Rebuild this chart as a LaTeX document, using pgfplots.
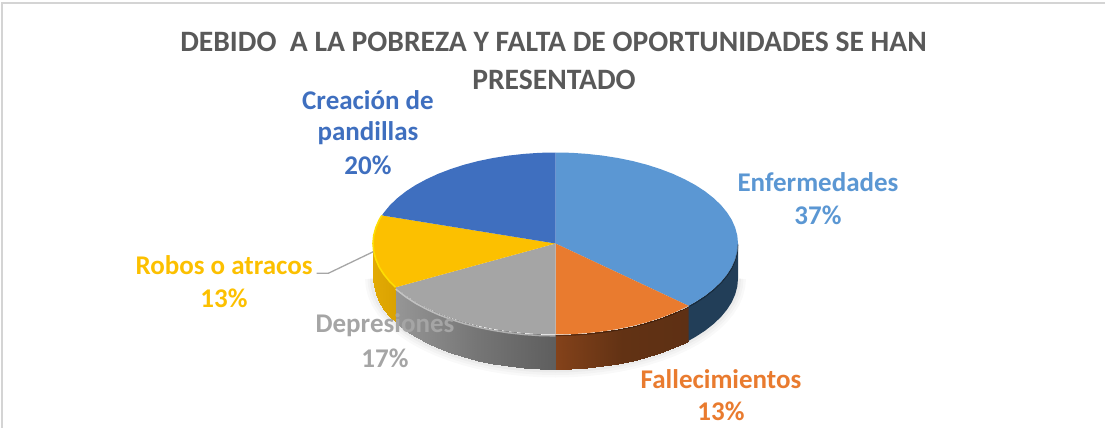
\documentclass[border=0pt]{standalone}
\usepackage{fontspec}
\setmainfont{Carlito}
\usepackage{pgfplots}
\usepackage{pgfplotstable}
\pgfplotsset{compat=1.18}

\definecolor{cEnf}{HTML}{5B97D3}
\definecolor{cFal}{HTML}{E97B2F}
\definecolor{cDep}{HTML}{A5A5A5}
\definecolor{cRob}{HTML}{FCC000}
\definecolor{cCre}{HTML}{3F6FBF}
\definecolor{cTitle}{HTML}{595959}
\definecolor{cEnfSide}{HTML}{223E58}

% shares of the pie: Enfermedades 37, Fallecimientos 13, Depresiones 17, Robos 13, Creacion 20
% all coordinates below are image pixels

\pgfplotstableread{
x y
555.5 243.5
555.5 152.5
571.4 152.8
587.2 153.9
602.7 155.6
617.9 158.0
632.6 161.0
646.8 164.7
660.2 169.0
672.8 173.8
684.5 179.2
695.3 185.0
705.0 191.3
713.5 198.0
720.9 205.0
727.0 212.4
731.8 219.9
735.2 227.7
737.3 235.6
738.0 243.5
737.3 251.4
735.2 259.3
731.8 267.1
727.0 274.6
720.9 282.0
713.5 289.0
705.0 295.7
695.3 302.0
688.5 305.8
555.5 243.5
}\enfT

\pgfplotstableread{
x y
555.5 243.5
688.5 305.8
684.5 307.8
672.8 313.2
660.2 318.0
646.8 322.3
632.6 326.0
617.9 329.0
602.7 331.4
587.2 333.1
571.4 334.2
555.5 334.5
555.5 243.5
}\falT

\pgfplotstableread{
x y
555.5 243.5
555.5 334.5
539.6 334.2
523.8 333.1
508.3 331.4
493.1 329.0
478.4 326.0
464.2 322.3
450.8 318.0
438.2 313.2
426.5 307.8
415.7 302.0
406.0 295.7
397.5 289.0
395.6 287.3
555.5 243.5
}\depT

\pgfplotstableread{
x y
555.5 243.5
395.6 287.3
390.1 282.0
384.0 274.6
379.2 267.1
375.8 259.3
373.7 251.4
373.0 243.5
373.7 235.6
375.8 227.7
379.2 219.9
381.9 215.4
555.5 243.5
}\robT

\pgfplotstableread{
x y
555.5 243.5
381.9 215.4
384.0 212.4
390.1 205.0
397.5 198.0
406.0 191.3
415.7 185.0
426.5 179.2
438.2 173.8
450.8 169.0
464.2 164.7
478.4 161.0
493.1 158.0
508.3 155.6
523.8 153.9
539.6 152.8
555.5 152.5
555.5 243.5
}\creT

% lower outline of the disc, left to right
\pgfplotstableread{
x y
373.0 278.5
373.7 286.4
375.8 294.3
379.2 302.1
384.0 309.6
390.1 317.0
397.5 324.0
406.0 330.7
415.7 337.0
426.5 342.8
438.2 348.2
450.8 353.0
464.2 357.3
478.4 361.0
493.1 364.0
508.3 366.4
523.8 368.1
539.6 369.2
555.5 369.5
571.4 369.2
587.2 368.1
602.7 366.4
617.9 364.0
632.6 361.0
646.8 357.3
660.2 353.0
672.8 348.2
684.5 342.8
695.3 337.0
705.0 330.7
713.5 324.0
720.9 317.0
727.0 309.6
731.8 302.1
735.2 294.3
737.3 286.4
738.0 278.5
}\lowT

\pgfplotsset{pixelaxis/.style={
  width=1105pt, height=428pt, scale only axis,
  xmin=0, xmax=1105, ymin=0, ymax=428, y dir=reverse,
  hide axis, clip=false}}
\tikzset{
  lbl/.style={inner sep=0pt, font=\fontsize{27}{32}\selectfont\bfseries},
  ttl/.style={inner sep=0pt, font=\fontsize{29.6}{35}\selectfont\bfseries, text=cTitle}}

\begin{document}
\begin{tikzpicture}
\path[use as bounding box] (0,0) rectangle (1105pt,428pt);
\begin{axis}[pixelaxis]

% page frame, top and left only
\addplot[draw=black!17, line width=2pt] coordinates {(1105,2.8) (1.8,2.8) (1.8,428)};

% soft shadow under the disc
\addplot[draw=black, opacity=0.025, line width=16pt] table {\lowT};
\addplot[draw=black, opacity=0.025, line width=11pt] table {\lowT};
\addplot[draw=black, opacity=0.03, line width=6pt] table {\lowT};

% side walls
\addplot[surf, shader=interp, mesh/rows=2, point meta=x, point meta rel=per plot,
  colormap={ws}{rgb255=(226,170,5) rgb255=(218,162,0)}] coordinates {
  (373.0,243.5) (373.7,251.4) (375.8,259.3) (379.2,267.1) (384.0,274.6) (390.1,282.0) (395.6,287.3)
  (373.0,278.5) (373.7,286.4) (375.8,294.3) (379.2,302.1) (384.0,309.6) (390.1,317.0) (395.6,322.3)};
\addplot[surf, shader=interp, mesh/rows=2, point meta=x, point meta rel=per plot,
  colormap={gs}{rgb255=(150,150,150) rgb255=(118,118,118) rgb255=(94,94,94)}] coordinates {
  (395.6,287.3) (397.5,289.0) (406.0,295.7) (415.7,302.0) (426.5,307.8) (438.2,313.2) (450.8,318.0) (464.2,322.3) (478.4,326.0) (493.1,329.0) (508.3,331.4) (523.8,333.1) (539.6,334.2) (555.5,334.5)
  (395.6,322.3) (397.5,324.0) (406.0,330.7) (415.7,337.0) (426.5,342.8) (438.2,348.2) (450.8,353.0) (464.2,357.3) (478.4,361.0) (493.1,364.0) (508.3,366.4) (523.8,368.1) (539.6,369.2) (555.5,369.5)};
\addplot[surf, shader=interp, mesh/rows=2, point meta=x, point meta rel=per plot,
  colormap={os}{rgb255=(132,66,26) rgb255=(98,50,20) rgb255=(94,48,20)}] coordinates {
  (555.5,334.5) (571.4,334.2) (587.2,333.1) (602.7,331.4) (617.9,329.0) (632.6,326.0) (646.8,322.3) (660.2,318.0) (672.8,313.2) (684.5,307.8) (688.5,305.8)
  (555.5,369.5) (571.4,369.2) (587.2,368.1) (602.7,366.4) (617.9,364.0) (632.6,361.0) (646.8,357.3) (660.2,353.0) (672.8,348.2) (684.5,342.8) (688.5,340.8)};
\addplot[fill=cEnfSide, draw=none] coordinates {
  (688.5,305.8) (695.3,302.0) (705.0,295.7) (713.5,289.0) (720.9,282.0) (727.0,274.6) (731.8,267.1) (735.2,259.3) (737.3,251.4) (738.0,243.5)
  (738.0,278.5) (737.3,286.4) (735.2,294.3) (731.8,302.1) (727.0,309.6) (720.9,317.0) (713.5,324.0) (705.0,330.7) (695.3,337.0) (688.5,340.8)} -- cycle;
\end{axis}

% second axis on the same box, so faces and text lie above the shaded walls
\begin{axis}[pixelaxis]
% top face
\addplot[fill=cEnf, draw=none] table {\enfT} -- cycle;
\addplot[fill=cFal, draw=none] table {\falT} -- cycle;
\addplot[fill=cDep, draw=none] table {\depT} -- cycle;
\addplot[fill=cRob, draw=none] table {\robT} -- cycle;
\addplot[fill=cCre, draw=none] table {\creT} -- cycle;

% rim highlights
\addplot[draw=white, opacity=0.45, line width=1.6pt] coordinates {
  (395.6,289.0) (406.0,297.0) (415.7,303.3) (426.5,309.1) (438.2,314.5) (450.8,319.3) (464.2,323.6) (478.4,327.3) (493.1,330.3) (508.3,332.7) (523.8,334.4) (539.6,335.5) (555.5,335.8)};
\addplot[draw=yellow!80!orange, line width=1.6pt] coordinates {
  (381.9,215.4) (379.2,219.9) (375.8,227.7) (373.7,235.6) (373.0,243.5) (373.7,251.4) (375.8,259.3) (379.2,267.1) (384.0,274.6) (390.1,282.0) (395.6,287.3)};
\addplot[draw=black, opacity=0.3, line width=1.2pt] coordinates {
  (555.5,335.5) (571.4,335.2) (587.2,334.1) (602.7,332.4) (617.9,330.0) (632.6,327.0) (646.8,323.3) (660.2,319.0) (672.8,314.2) (684.5,308.8) (695.3,303.0) (705.0,296.7) (713.5,290.0) (720.9,283.0) (727.0,275.6) (731.8,268.1) (735.2,260.3) (737.3,252.4) (738.0,244.5)};

% leader line of Robos o atracos
\addplot[draw=black!35, line width=1.3pt] coordinates {(316.7,273.3) (328.3,273.3) (373.3,251.7)};

% title
\node[ttl] at (axis cs:553.5,42) {DEBIDO\ \ A LA POBREZA Y FALTA DE OPORTUNIDADES SE HAN};
\node[ttl] at (axis cs:554,80) {PRESENTADO};

% data labels
\node[lbl, text=cCre] at (axis cs:368,100) {Creación de};
\node[lbl, text=cCre] at (axis cs:368,133) {pandillas};
\node[lbl, text=cCre] at (axis cs:368,165) {20\%};
\node[lbl, text=cEnf] at (axis cs:818,182) {Enfermedades};
\node[lbl, text=cEnf] at (axis cs:818,215) {37\%};
\node[lbl, text=cRob] at (axis cs:224,265) {Robos o atracos};
\node[lbl, text=cRob] at (axis cs:224,298) {13\%};
\node[lbl, text=cDep] at (axis cs:385,325) {Depresiones};
\node[lbl, text=cDep] at (axis cs:385,358) {17\%};
\node[lbl, text=cFal] at (axis cs:721,379) {Fallecimientos};
\node[lbl, text=cFal] at (axis cs:721,411) {13\%};
\end{axis}
\end{tikzpicture}
\end{document}
